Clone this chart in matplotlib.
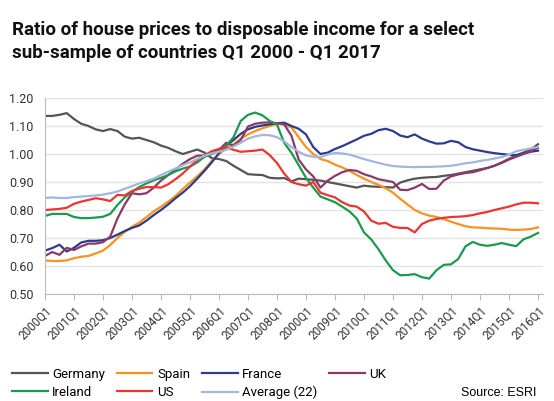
import matplotlib.pyplot as plt
import numpy as np

# quarterly ratio, 2000Q1 .. 2017Q1 (69 points)
germany = [1.136, 1.136, 1.140, 1.146, 1.125, 1.108, 1.100, 1.088, 1.082, 1.089, 1.082, 1.062, 1.055, 1.058, 1.050, 1.042, 1.030, 1.022, 1.010, 1.000,
           1.008, 1.016, 1.005, 0.985, 0.982, 0.975, 0.958, 0.943, 0.928, 0.926, 0.925, 0.915, 0.913, 0.914, 0.902, 0.912, 0.910, 0.908, 0.905, 0.900,
           0.895, 0.890, 0.885, 0.880, 0.887, 0.884, 0.883, 0.882, 0.880, 0.898, 0.906, 0.912, 0.915, 0.917, 0.918, 0.922, 0.925, 0.930, 0.935, 0.940,
           0.945, 0.950, 0.958, 0.970, 0.983, 0.995, 1.005, 1.015, 1.035]
spain = [0.620, 0.618, 0.618, 0.620, 0.628, 0.633, 0.636, 0.645, 0.655, 0.675, 0.700, 0.722, 0.740, 0.755, 0.775, 0.795, 0.812, 0.830, 0.850, 0.875,
         0.898, 0.920, 0.945, 0.975, 1.000, 1.020, 1.035, 1.055, 1.070, 1.082, 1.092, 1.100, 1.108, 1.105, 1.095, 1.060, 1.025, 1.000, 0.982, 0.975,
         0.962, 0.952, 0.940, 0.925, 0.912, 0.900, 0.890, 0.878, 0.862, 0.840, 0.820, 0.800, 0.788, 0.780, 0.775, 0.768, 0.758, 0.750, 0.742, 0.738,
         0.737, 0.735, 0.734, 0.733, 0.730, 0.729, 0.730, 0.732, 0.738]
france = [0.655, 0.664, 0.676, 0.652, 0.665, 0.684, 0.690, 0.690, 0.692, 0.700, 0.712, 0.725, 0.736, 0.745, 0.762, 0.782, 0.800, 0.820, 0.842, 0.862,
          0.885, 0.912, 0.940, 0.970, 1.003, 1.030, 1.050, 1.072, 1.088, 1.097, 1.102, 1.106, 1.110, 1.112, 1.100, 1.090, 1.070, 1.025, 1.000, 1.005,
          1.018, 1.028, 1.040, 1.052, 1.065, 1.072, 1.085, 1.090, 1.082, 1.066, 1.060, 1.070, 1.055, 1.045, 1.037, 1.038, 1.047, 1.042, 1.025, 1.017,
          1.012, 1.007, 1.003, 1.000, 0.997, 0.996, 1.002, 1.008, 1.012]
uk = [0.636, 0.650, 0.640, 0.665, 0.657, 0.670, 0.680, 0.680, 0.685, 0.705, 0.770, 0.820, 0.860, 0.856, 0.860, 0.880, 0.905, 0.925, 0.945, 0.965,
      0.982, 0.994, 0.995, 1.000, 1.015, 1.040, 1.030, 1.050, 1.098, 1.108, 1.112, 1.113, 1.110, 1.106, 1.065, 0.980, 0.945, 0.920, 0.880, 0.905,
      0.922, 0.935, 0.943, 0.940, 0.928, 0.920, 0.910, 0.905, 0.900, 0.872, 0.871, 0.880, 0.893, 0.875, 0.876, 0.905, 0.920, 0.927, 0.932, 0.935,
      0.942, 0.950, 0.958, 0.968, 0.980, 0.990, 1.000, 1.010, 1.022]
ireland = [0.779, 0.786, 0.786, 0.786, 0.775, 0.771, 0.771, 0.773, 0.776, 0.786, 0.818, 0.845, 0.865, 0.882, 0.895, 0.906, 0.915, 0.925, 0.938, 0.948,
           0.955, 0.970, 0.990, 1.000, 1.012, 1.030, 1.060, 1.118, 1.140, 1.148, 1.138, 1.118, 1.105, 1.040, 1.004, 0.960, 0.915, 0.880, 0.848, 0.838,
           0.828, 0.812, 0.795, 0.770, 0.720, 0.695, 0.660, 0.620, 0.585, 0.567, 0.568, 0.571, 0.560, 0.555, 0.585, 0.604, 0.606, 0.625, 0.670, 0.686,
           0.676, 0.672, 0.676, 0.682, 0.676, 0.671, 0.695, 0.705, 0.718]
us = [0.800, 0.802, 0.804, 0.808, 0.822, 0.830, 0.836, 0.842, 0.838, 0.832, 0.854, 0.852, 0.868, 0.876, 0.882, 0.882, 0.880, 0.892, 0.910, 0.930,
      0.955, 0.978, 0.995, 1.010, 1.018, 1.024, 1.015, 1.008, 1.010, 1.012, 1.016, 0.996, 0.968, 0.930, 0.900, 0.892, 0.887, 0.900, 0.862, 0.853,
      0.845, 0.828, 0.816, 0.812, 0.795, 0.762, 0.751, 0.754, 0.740, 0.736, 0.736, 0.720, 0.750, 0.762, 0.768, 0.772, 0.775, 0.776, 0.778, 0.782,
      0.788, 0.793, 0.800, 0.806, 0.812, 0.820, 0.826, 0.826, 0.824]
average = [0.843, 0.845, 0.843, 0.843, 0.846, 0.848, 0.850, 0.852, 0.855, 0.860, 0.866, 0.876, 0.885, 0.895, 0.903, 0.912, 0.925, 0.937, 0.948, 0.960,
           0.970, 0.982, 0.994, 1.002, 1.008, 1.015, 1.027, 1.040, 1.055, 1.063, 1.068, 1.067, 1.060, 1.045, 1.025, 1.008, 0.995, 0.990, 0.989, 0.998,
           1.004, 1.002, 0.998, 0.990, 0.982, 0.975, 0.968, 0.962, 0.957, 0.955, 0.954, 0.953, 0.954, 0.954, 0.955, 0.956, 0.958, 0.962, 0.967, 0.970,
           0.975, 0.979, 0.984, 0.989, 0.997, 1.010, 1.015, 1.020, 1.025]

# tick labels as printed on the original (note the stray "2000Q1")
tick_labels = ['2000Q1', '2001Q1', '2002Q1', '2003Q1', '2004Q1', '2005Q1', '2006Q1', '2007Q1', '2008Q1',
               '2000Q1', '2009Q1', '2010Q1', '2011Q1', '2012Q1', '2013Q1', '2014Q1', '2015Q1', '2016Q1']

plt.rcParams['font.family'] = ['Roboto', 'DejaVu Sans']

fig = plt.figure(figsize=(5.54, 4.01), dpi=100)
ax = fig.add_axes([0.0812, 0.2668, 0.899, 0.4888])

x = np.arange(len(germany))
lg, = ax.plot(x, germany, color='#555555', lw=1.6, label='Germany')
ls, = ax.plot(x, spain, color='#f7931e', lw=1.6, label='Spain')
lf, = ax.plot(x, france, color='#2e3b8c', lw=1.6, label='France')
lu, = ax.plot(x, uk, color='#8b3a68', lw=1.6, label='UK')
li, = ax.plot(x, ireland, color='#1b9a4e', lw=1.6, label='Ireland')
lus, = ax.plot(x, us, color='#ea3530', lw=1.6, label='US')
la, = ax.plot(x, average, color='#a4b6dc', lw=1.6, label='Average (22)')

ax.set_xlim(0, 68.7)
ax.set_ylim(0.5, 1.2)
ax.set_yticks(np.arange(0.5, 1.21, 0.1))
ax.yaxis.set_major_formatter(plt.FormatStrFormatter('%.2f'))
ax.set_xticks(np.arange(0, 69, 4))
ax.set_xticklabels(tick_labels, rotation=45, ha='right', va='top', rotation_mode='anchor', fontsize=8.5, color='#333333')
ax.tick_params(axis='y', length=0, labelsize=9, colors='#333333', pad=8)
ax.tick_params(axis='x', length=4, color='#bbbbbb', pad=3)
ax.grid(axis='y', color='#e3e3e3', lw=1)
ax.set_axisbelow(True)
for s in ['top', 'right']:
    ax.spines[s].set_visible(False)
ax.spines['left'].set_color('#bbbbbb')
ax.spines['bottom'].set_color('#bbbbbb')

fig.text(0.022, 0.948, 'Ratio of house prices to disposable income for a select\nsub-sample of countries Q1 2000 - Q1 2017',
         fontsize=13.5, fontweight='bold', va='top', ha='left', color='#111111', linespacing=1.4)

# legend fills column by column
handles = [lg, li, ls, lus, lf, la, lu]
fig.legend(handles, [h.get_label() for h in handles], loc='lower left', bbox_to_anchor=(0.0, -0.025), ncol=4,
           frameon=False, fontsize=9.5, handlelength=2.7, handletextpad=0.35, columnspacing=0.9, labelspacing=0.35)

fig.text(0.968, 0.005, 'Source: ESRI', fontsize=9, ha='right', va='bottom', family=['Liberation Sans', 'DejaVu Sans'])

fig.savefig('out.png', dpi=100)
